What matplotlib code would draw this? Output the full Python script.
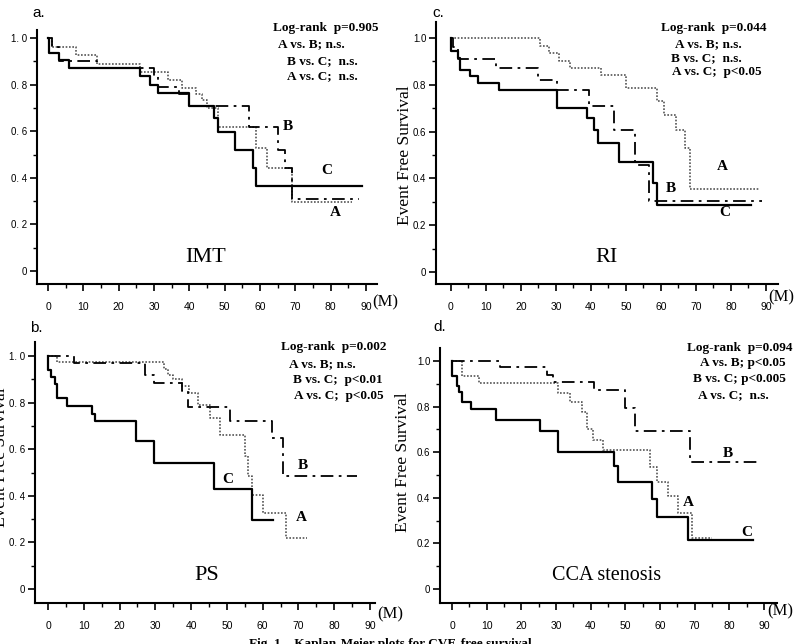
import numpy as np
import matplotlib
matplotlib.use("Agg")
import matplotlib.pyplot as plt
from matplotlib.ticker import FixedLocator

# ---- data (months, event free survival) ----
# a. IMT
imt_a_t = [0, 1, 8, 14, 26, 34, 38, 42, 43.5, 45, 48, 59, 62, 69, 86]
imt_a_s = [1.0, 0.96, 0.925, 0.89, 0.856, 0.82, 0.785, 0.76, 0.735, 0.70, 0.62, 0.527, 0.44, 0.297, 0.297]
imt_b_t = [0, 1, 3, 14, 30, 31, 37, 40, 57, 65, 67, 69, 88]
imt_b_s = [1.0, 0.96, 0.90, 0.87, 0.835, 0.79, 0.76, 0.71, 0.62, 0.52, 0.44, 0.31, 0.31]
imt_c_t = [0, 0.3, 3, 6, 26, 29, 31, 40, 47, 48, 53, 58, 59, 89]
imt_c_s = [1.0, 0.935, 0.907, 0.871, 0.835, 0.80, 0.763, 0.709, 0.656, 0.595, 0.52, 0.44, 0.366, 0.366]

# c. RI
ri_a_t = [0, 25.5, 28, 31, 34, 43, 50, 59, 61, 64.4, 67, 68.4, 88]
ri_a_s = [1.0, 0.964, 0.936, 0.90, 0.871, 0.843, 0.786, 0.729, 0.671, 0.607, 0.529, 0.353, 0.353]
ri_b_t = [0, 0.5, 2, 13, 25, 30.3, 39.3, 46.5, 52.7, 56.5, 89]
ri_b_s = [1.0, 0.96, 0.91, 0.871, 0.821, 0.776, 0.71, 0.607, 0.457, 0.303, 0.303]
ri_c_t = [0, 0.1, 1.9, 2.7, 5.5, 7.6, 13.6, 30.3, 38.9, 40.8, 41.9, 47.9, 57.6, 58.9, 85.7]
ri_c_s = [1.0, 0.945, 0.914, 0.864, 0.836, 0.807, 0.779, 0.70, 0.657, 0.607, 0.553, 0.471, 0.379, 0.286, 0.286]

# b. PS
ps_a_t = [0, 2.5, 32.3, 33.5, 35, 37.5, 39.5, 42, 45.3, 48, 55, 56, 57, 60.2, 66.6, 72.3]
ps_a_s = [1.0, 0.973, 0.945, 0.92, 0.90, 0.87, 0.84, 0.79, 0.733, 0.661, 0.571, 0.487, 0.404, 0.326, 0.219, 0.219]
ps_b_t = [0, 7.2, 27.2, 29.5, 37.4, 39, 50.9, 62.6, 65.6, 86.3]
ps_b_s = [1.0, 0.969, 0.919, 0.883, 0.85, 0.783, 0.721, 0.647, 0.483, 0.483]
ps_c_t = [0, 0.1, 0.8, 1.9, 2.5, 5.3, 12.3, 13.2, 24.7, 29.7, 46.3, 57, 63]
ps_c_s = [1.0, 0.94, 0.911, 0.88, 0.821, 0.787, 0.75, 0.721, 0.637, 0.54, 0.43, 0.294, 0.294]

# d. CCA stenosis
cca_a_t = [0, 2.9, 7.7, 30.7, 34.1, 37.4, 38.9, 40.8, 43.7, 57.1, 59, 62.4, 65.3, 69.1, 74.9]
cca_a_s = [1.0, 0.934, 0.902, 0.861, 0.822, 0.778, 0.702, 0.654, 0.61, 0.537, 0.47, 0.406, 0.333, 0.223, 0.223]
cca_b_t = [0, 13.9, 27.4, 29, 41.1, 49.9, 52.8, 68.6, 89]
cca_b_s = [1.0, 0.972, 0.94, 0.909, 0.873, 0.793, 0.695, 0.555, 0.555]
cca_c_t = [0, 0.1, 1.4, 2.1, 2.9, 5.6, 12.8, 25.4, 30.7, 46.8, 48, 57.8, 59, 68.1, 86.9]
cca_c_s = [1.0, 0.935, 0.89, 0.866, 0.822, 0.79, 0.742, 0.693, 0.60, 0.54, 0.47, 0.394, 0.315, 0.213, 0.213]

panel_titles = ["IMT", "RI", "PS", "CCA stenosis"]
panel_letters = ["a.", "c.", "b.", "d."]
stats_text = [
    ["Log-rank  p=0.905", "A vs. B; n.s.", "B vs. C;  n.s.", "A vs. C;  n.s."],
    ["Log-rank  p=0.044", "A vs. B; n.s.", "B vs. C;  n.s.", "A vs. C;  p<0.05"],
    ["Log-rank  p=0.002", "A vs. B; n.s.", "B vs. C;  p<0.01", "A vs. C;  p<0.05"],
    ["Log-rank  p=0.094", "A vs. B; p<0.05", "B vs. C; p<0.005", "A vs. C;  n.s."],
]
curves = [
    [(imt_a_t, imt_a_s), (imt_b_t, imt_b_s), (imt_c_t, imt_c_s)],
    [(ri_a_t, ri_a_s), (ri_b_t, ri_b_s), (ri_c_t, ri_c_s)],
    [(ps_a_t, ps_a_s), (ps_b_t, ps_b_s), (ps_c_t, ps_c_s)],
    [(cca_a_t, cca_a_s), (cca_b_t, cca_b_s), (cca_c_t, cca_c_s)],
]
# where the A / B / C letters sit (data coords)
curve_label_pos = [
    [(81.3, 0.25), (68, 0.62), (79, 0.43)],
    [(77.4, 0.45), (62.9, 0.355), (78.3, 0.256)],
    [(70.9, 0.305), (71.2, 0.53), (50.3, 0.47)],
    [(68.3, 0.38), (79.5, 0.596), (85, 0.25)],
]
spaced_yticks = [True, False, True, False]   # "1. 0" vs "1.0"

W, H = 799, 644
SERIF = ["Liberation Serif", "DejaVu Serif"]
SANS = ["Liberation Sans", "DejaVu Sans"]

# pixel geometry per panel: spine left, axis right end, x=0 px, x=90 px,
# spine top, x-axis px, y=0 px, y=1 px
geom = [
    dict(L=37, R=377, x0=48, x90=366, T=30, B=284, y0=271, y1=38),
    dict(L=436, R=778, x0=451, x90=766, T=22, B=284, y0=272, y1=38),
    dict(L=35, R=375, x0=48, x90=370, T=342, B=603, y0=589, y1=356),
    dict(L=440, R=777, x0=452, x90=764, T=348, B=603, y0=589, y1=361),
]
letter_px = [(32, 13), (432, 13), (30, 328), (433, 327)]
stats_px = [
    [(273, 28), (278, 44), (287, 61), (287, 76)],
    [(661, 28), (675, 44), (671, 58), (672, 72)],
    [(281, 347), (289, 364), (293, 380), (294, 396)],
    [(687, 348), (700, 363), (693, 379), (698, 395)],
]
ylabel_px = [(-5, 155), (405, 155), (1, 457), (403, 462)]
m_px = [(372, 302), (768, 297), (377, 614), (767, 611)]
title_size = [16, 16, 16, 14.5]

styles = [
    dict(color="#555555", lw=1.2, ls=(0, (1, 1))),           # A dotted
    dict(color="black", lw=1.3, ls=(0, (7, 3, 1.5, 3))),     # B dash-dot
    dict(color="black", lw=1.6, ls="-"),                     # C solid
]

fig = plt.figure(figsize=(W / 100, H / 100), dpi=100)

for i, g in enumerate(geom):
    rect = [g["L"] / W, 1 - g["B"] / H, (g["R"] - g["L"]) / W, (g["B"] - g["T"]) / H]
    ax = fig.add_axes(rect)
    sx = (g["x90"] - g["x0"]) / 90.0
    sy = g["y0"] - g["y1"]
    ax.set_xlim((g["L"] - g["x0"]) / sx, (g["R"] - g["x0"]) / sx)
    ax.set_ylim((g["y0"] - g["B"]) / sy, (g["y0"] - g["T"]) / sy)

    for (t, s), st in zip(curves[i], styles):
        ax.step(t, s, where="post", **st)

    for name, (lx, ly) in zip(["A", "B", "C"], curve_label_pos[i]):
        ax.text(lx, ly, name, family=SERIF, fontweight="bold", fontsize=11,
                ha="center", va="center")
    ax.text(44.5, 0.06, panel_titles[i], family=SERIF, fontsize=title_size[i],
            ha="center", va="center")

    for side in ["top", "right"]:
        ax.spines[side].set_visible(False)
    for side in ["left", "bottom"]:
        ax.spines[side].set_linewidth(1.5)

    yvals = np.arange(0, 1.01, 0.2)
    ax.xaxis.set_major_locator(FixedLocator(np.arange(0, 91, 10)))
    ax.xaxis.set_minor_locator(FixedLocator(np.arange(5, 90, 10)))
    ax.yaxis.set_major_locator(FixedLocator(yvals))
    ax.yaxis.set_minor_locator(FixedLocator(np.arange(0.1, 1.0, 0.2)))
    labels = []
    for v in yvals:
        if v == 0:
            labels.append("0")
        else:
            s = "%.1f" % v
            labels.append(s.replace(".", ". ") if spaced_yticks[i] else s)
    ax.set_yticklabels(labels)
    ax.tick_params(which="major", direction="out", length=5, width=1.2)
    ax.tick_params(which="minor", direction="out", length=3, width=1.0)
    ax.tick_params(axis="x", labelsize=7.5, pad=8)
    ax.tick_params(axis="y", labelsize=7, pad=2)
    for lab in ax.get_xticklabels() + ax.get_yticklabels():
        lab.set_family(SANS)

    lx, ly = letter_px[i]
    fig.text(lx / W, 1 - ly / H, panel_letters[i], family=SANS, fontsize=11,
             ha="left", va="center")
    for (tx, ty), line in zip(stats_px[i], stats_text[i]):
        fig.text(tx / W, 1 - ty / H, line, family=SERIF, fontweight="bold",
                 fontsize=9.5, ha="left", va="center")
    yx, yy = ylabel_px[i]
    fig.text(yx / W, 1 - yy / H, "Event Free Survival", family=SERIF,
             fontsize=12.5, rotation=90, ha="center", va="center")
    mx, my = m_px[i]
    fig.text(mx / W, 1 - my / H, "(M)", family=SERIF, fontsize=12,
             ha="left", va="center")

fig.text(390 / W, 1 - 638 / H, "Fig. 1    Kaplan-Meier plots for CVE-free survival",
         family=SERIF, fontweight="bold", fontsize=9.5, ha="center", va="top")

fig.savefig("out.png", dpi=100)
